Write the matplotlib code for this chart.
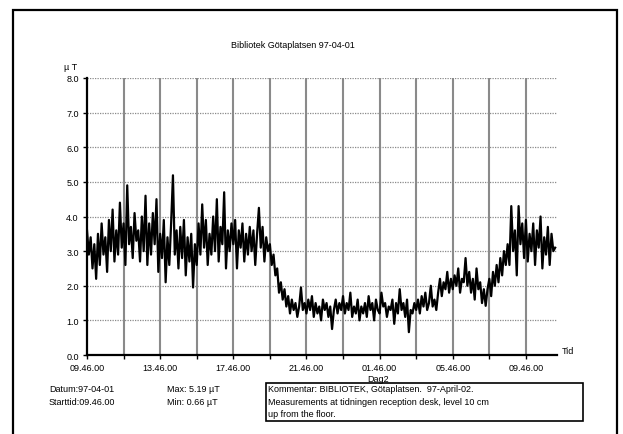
#!/usr/bin/env python

import numpy as np
import matplotlib
matplotlib.use("Agg")
import matplotlib.pyplot as plt
from matplotlib.patches import Rectangle

plt.rcParams['font.family'] = ['Liberation Sans', 'DejaVu Sans']

# readings every 0.1 h from 09.46.00 (uT)
field = [
    3.6, 2.9, 3.4, 2.5, 3.2, 2.2, 3.5, 2.6, 3.8, 2.9,
    3.4, 2.4, 3.9, 3.0, 4.2, 2.7, 3.6, 2.9, 4.4, 3.1,
    3.8, 2.6, 4.9, 3.2, 3.7, 2.8, 4.1, 3.3, 3.6, 2.7,
    4.0, 3.0, 4.6, 2.6, 3.8, 2.9, 4.1, 3.2, 4.5, 2.4,
    3.5, 2.8, 3.9, 2.1, 3.4, 2.6, 3.8, 5.19, 2.9, 3.6,
    2.5, 3.7, 2.8, 3.9, 2.3, 3.4, 2.7, 3.5, 1.95, 3.2,
    2.6, 3.8, 2.9, 4.35, 3.1, 3.9, 2.6, 3.5, 2.9, 4.0,
    3.0, 4.5, 2.7, 3.7, 3.2, 4.7, 2.5, 3.6, 3.0, 3.8,
    3.2, 3.9, 2.5, 3.6, 3.1, 3.8, 2.7, 3.5, 2.9, 3.7,
    3.0, 3.6, 2.6, 3.5, 4.25, 3.1, 3.7, 2.7, 3.4, 3.0,
    3.2, 2.6, 2.9, 2.3, 2.5, 1.8, 2.1, 1.6, 1.9, 1.4,
    1.7, 1.2, 1.6, 1.3, 1.5, 1.1, 1.4, 1.95, 1.3, 1.5,
    1.2, 1.6, 1.3, 1.7, 1.1, 1.5, 1.2, 1.4, 1.0, 1.6,
    1.3, 1.5, 1.1, 1.4, 0.75, 1.3, 1.6, 1.2, 1.5, 1.3,
    1.7, 1.2, 1.5, 1.3, 1.8, 1.1, 1.4, 1.2, 1.6, 1.0,
    1.4, 1.2, 1.5, 1.1, 1.7, 1.3, 1.5, 1.0, 1.6, 1.3,
    1.2, 1.8, 1.4, 1.5, 1.1, 1.4, 1.3, 1.6, 0.9, 1.5,
    1.2, 1.9, 1.3, 1.5, 1.1, 1.6, 0.66, 1.3, 1.2, 1.5,
    1.3, 1.6, 1.2, 1.7, 1.4, 1.8, 1.3, 1.5, 2.0, 1.4,
    1.6, 1.3, 1.8, 2.2, 1.7, 2.1, 1.9, 2.4, 1.8, 2.2,
    1.9, 2.3, 2.0, 2.5, 1.8, 2.2, 2.1, 2.8, 2.0, 2.4,
    1.8, 2.2, 1.6, 2.5, 1.9, 2.1, 1.5, 1.9, 1.42, 1.9,
    2.2, 1.7, 2.4, 2.0, 2.6, 2.1, 2.8, 2.3, 3.0, 2.6,
    3.2, 2.6, 4.3, 3.0, 3.6, 2.3, 4.3, 3.2, 3.8, 2.8,
    3.9, 2.7, 3.5, 3.0, 3.8, 2.6, 3.6, 3.1, 4.0, 2.5,
    3.4, 2.9, 3.7, 2.6, 3.5, 3.0, 3.1,
]
step_h = 0.1
x_end = 25.7

tick_hours = [0, 4, 8, 12, 16, 20, 24]
tick_labels = ["09.46.00", "13.46.00", "17.46.00", "21.46.00",
               "01.46.00", "05.46.00", "09.46.00"]
y_ticks = [0, 1, 2, 3, 4, 5, 6, 7, 8]

title = "Bibliotek Götaplatsen 97-04-01"
comment = ("Kommentar: BIBLIOTEK, Götaplatsen.  97-April-02.\n"
           "Measurements at tidningen reception desk, level 10 cm\n"
           "up from the floor.")

fs = 6.5
W, H = 623, 435
fig = plt.figure(figsize=(W / 100, H / 100), dpi=100)
fig.patch.set_facecolor('white')

# outer frame, open at the bottom
fig.add_artist(Rectangle((13 / W, -0.1), 604 / W, 1.1 - 11 / H,
                         transform=fig.transFigure, fill=False,
                         edgecolor='black', linewidth=1.6))

ax = fig.add_axes([87 / W, 1 - 356 / H, 470 / W, 277 / H])
ax.set_xlim(0, x_end)
ax.set_ylim(0, 8)

hours = np.arange(len(field)) * step_h

# grid
for h in range(2, 25, 2):
    ax.axvline(h, color='#8a8a8a', linewidth=1.5, zorder=1)
for v in y_ticks[1:]:
    ax.axhline(v, color='#8a8a8a', linewidth=0.9,
               linestyle=(0, (1, 1)), zorder=1)

ax.plot(hours, field, color='black', linewidth=1.6, zorder=3)

for s in ['top', 'right']:
    ax.spines[s].set_visible(False)
ax.spines['left'].set_linewidth(1.6)
ax.spines['bottom'].set_linewidth(1.6)

ax.set_yticks(y_ticks)
ax.set_yticklabels(["%.1f" % v for v in y_ticks], fontsize=fs)
ax.set_xticks(range(0, 25, 2))
ax.set_xticklabels([tick_labels[tick_hours.index(h)] if h in tick_hours else ""
                    for h in range(0, 25, 2)], fontsize=fs)
ax.tick_params(axis='both', length=3, width=1, pad=3)

fig.text(77 / W, 1 - 68 / H, "µ T", fontsize=fs, ha='right', va='center')
fig.text(562 / W, 1 - 352 / H, "Tid", fontsize=fs, ha='left', va='center')
fig.text(378 / W, 1 - 380 / H, "Dag2", fontsize=fs, ha='center', va='center')
fig.text(293 / W, 1 - 45 / H, title, fontsize=fs, ha='center', va='center')

fig.text(49 / W, 1 - 390 / H, "Datum:97-04-01", fontsize=fs, va='center')
fig.text(49 / W, 1 - 403 / H, "Starttid:09.46.00", fontsize=fs, va='center')
fig.text(167 / W, 1 - 390 / H, "Max: 5.19 µT", fontsize=fs, va='center')
fig.text(167 / W, 1 - 403 / H, "Min: 0.66 µT", fontsize=fs, va='center')

fig.add_artist(Rectangle((266 / W, 1 - 422 / H), 317 / W, 38 / H,
                         transform=fig.transFigure, fill=False,
                         edgecolor='black', linewidth=1.2))
fig.text(268 / W, 1 - 385.5 / H, comment, fontsize=fs, va='top',
         linespacing=1.45)

fig.savefig("out.png", dpi=100)
